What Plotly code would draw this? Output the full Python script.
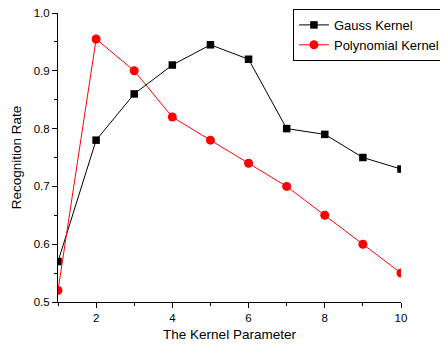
import plotly.graph_objects as go

kernel_param = [1, 2, 3, 4, 5, 6, 7, 8, 9, 10]
gauss_rate = [0.57, 0.78, 0.86, 0.91, 0.945, 0.92, 0.80, 0.79, 0.75, 0.73]
poly_rate = [0.52, 0.955, 0.90, 0.82, 0.78, 0.74, 0.70, 0.65, 0.60, 0.55]

fig = go.Figure()
fig.add_trace(go.Scatter(x=kernel_param, y=gauss_rate, mode="lines+markers",
                         name="Gauss Kernel",
                         line=dict(color="black", width=1),
                         marker=dict(symbol="square", size=7.5, color="black")))
fig.add_trace(go.Scatter(x=kernel_param, y=poly_rate, mode="lines+markers",
                         name="Polynomial Kernel",
                         line=dict(color="red", width=1),
                         marker=dict(symbol="circle", size=9, color="red")))

font = "Liberation Sans, Arial, sans-serif"
fig.update_layout(
    width=448, height=351,
    margin=dict(l=50, r=55, t=5, b=57, autoexpand=False),
    plot_bgcolor="white", paper_bgcolor="white",
    font=dict(family=font, size=11.5, color="black"),
    showlegend=True,
    legend=dict(x=0.685, y=1.014, xanchor="left", yanchor="top",
                bordercolor="black", borderwidth=1, bgcolor="white",
                font=dict(size=13), tracegroupgap=0,
                itemwidth=30),
)
fig.update_xaxes(range=[1, 10], tickvals=[2, 4, 6, 8, 10], automargin=False,
                 showline=True, linecolor="black", linewidth=1,
                 ticks="outside", ticklen=5, tickcolor="black",
                 showgrid=False, zeroline=False, ticklabeloverflow="allow",
                 minor=dict(tickvals=[1, 3, 5, 7, 9], ticks="outside", ticklen=3, tickcolor="black"),
                 title=dict(text="The Kernel Parameter", font=dict(size=13.5), standoff=6))
fig.update_yaxes(range=[0.5, 1.0], dtick=0.1, tickformat=".1f", automargin=True,
                 showline=True, linecolor="black", linewidth=1,
                 ticks="outside", ticklen=5, tickcolor="black",
                 showgrid=False, zeroline=False, ticklabeloverflow="allow",
                 minor=dict(dtick=0.05, ticks="outside", ticklen=3, tickcolor="black"),
                 title=dict(text="Recognition Rate", font=dict(size=13.5), standoff=8))

fig.write_html("out.html")
